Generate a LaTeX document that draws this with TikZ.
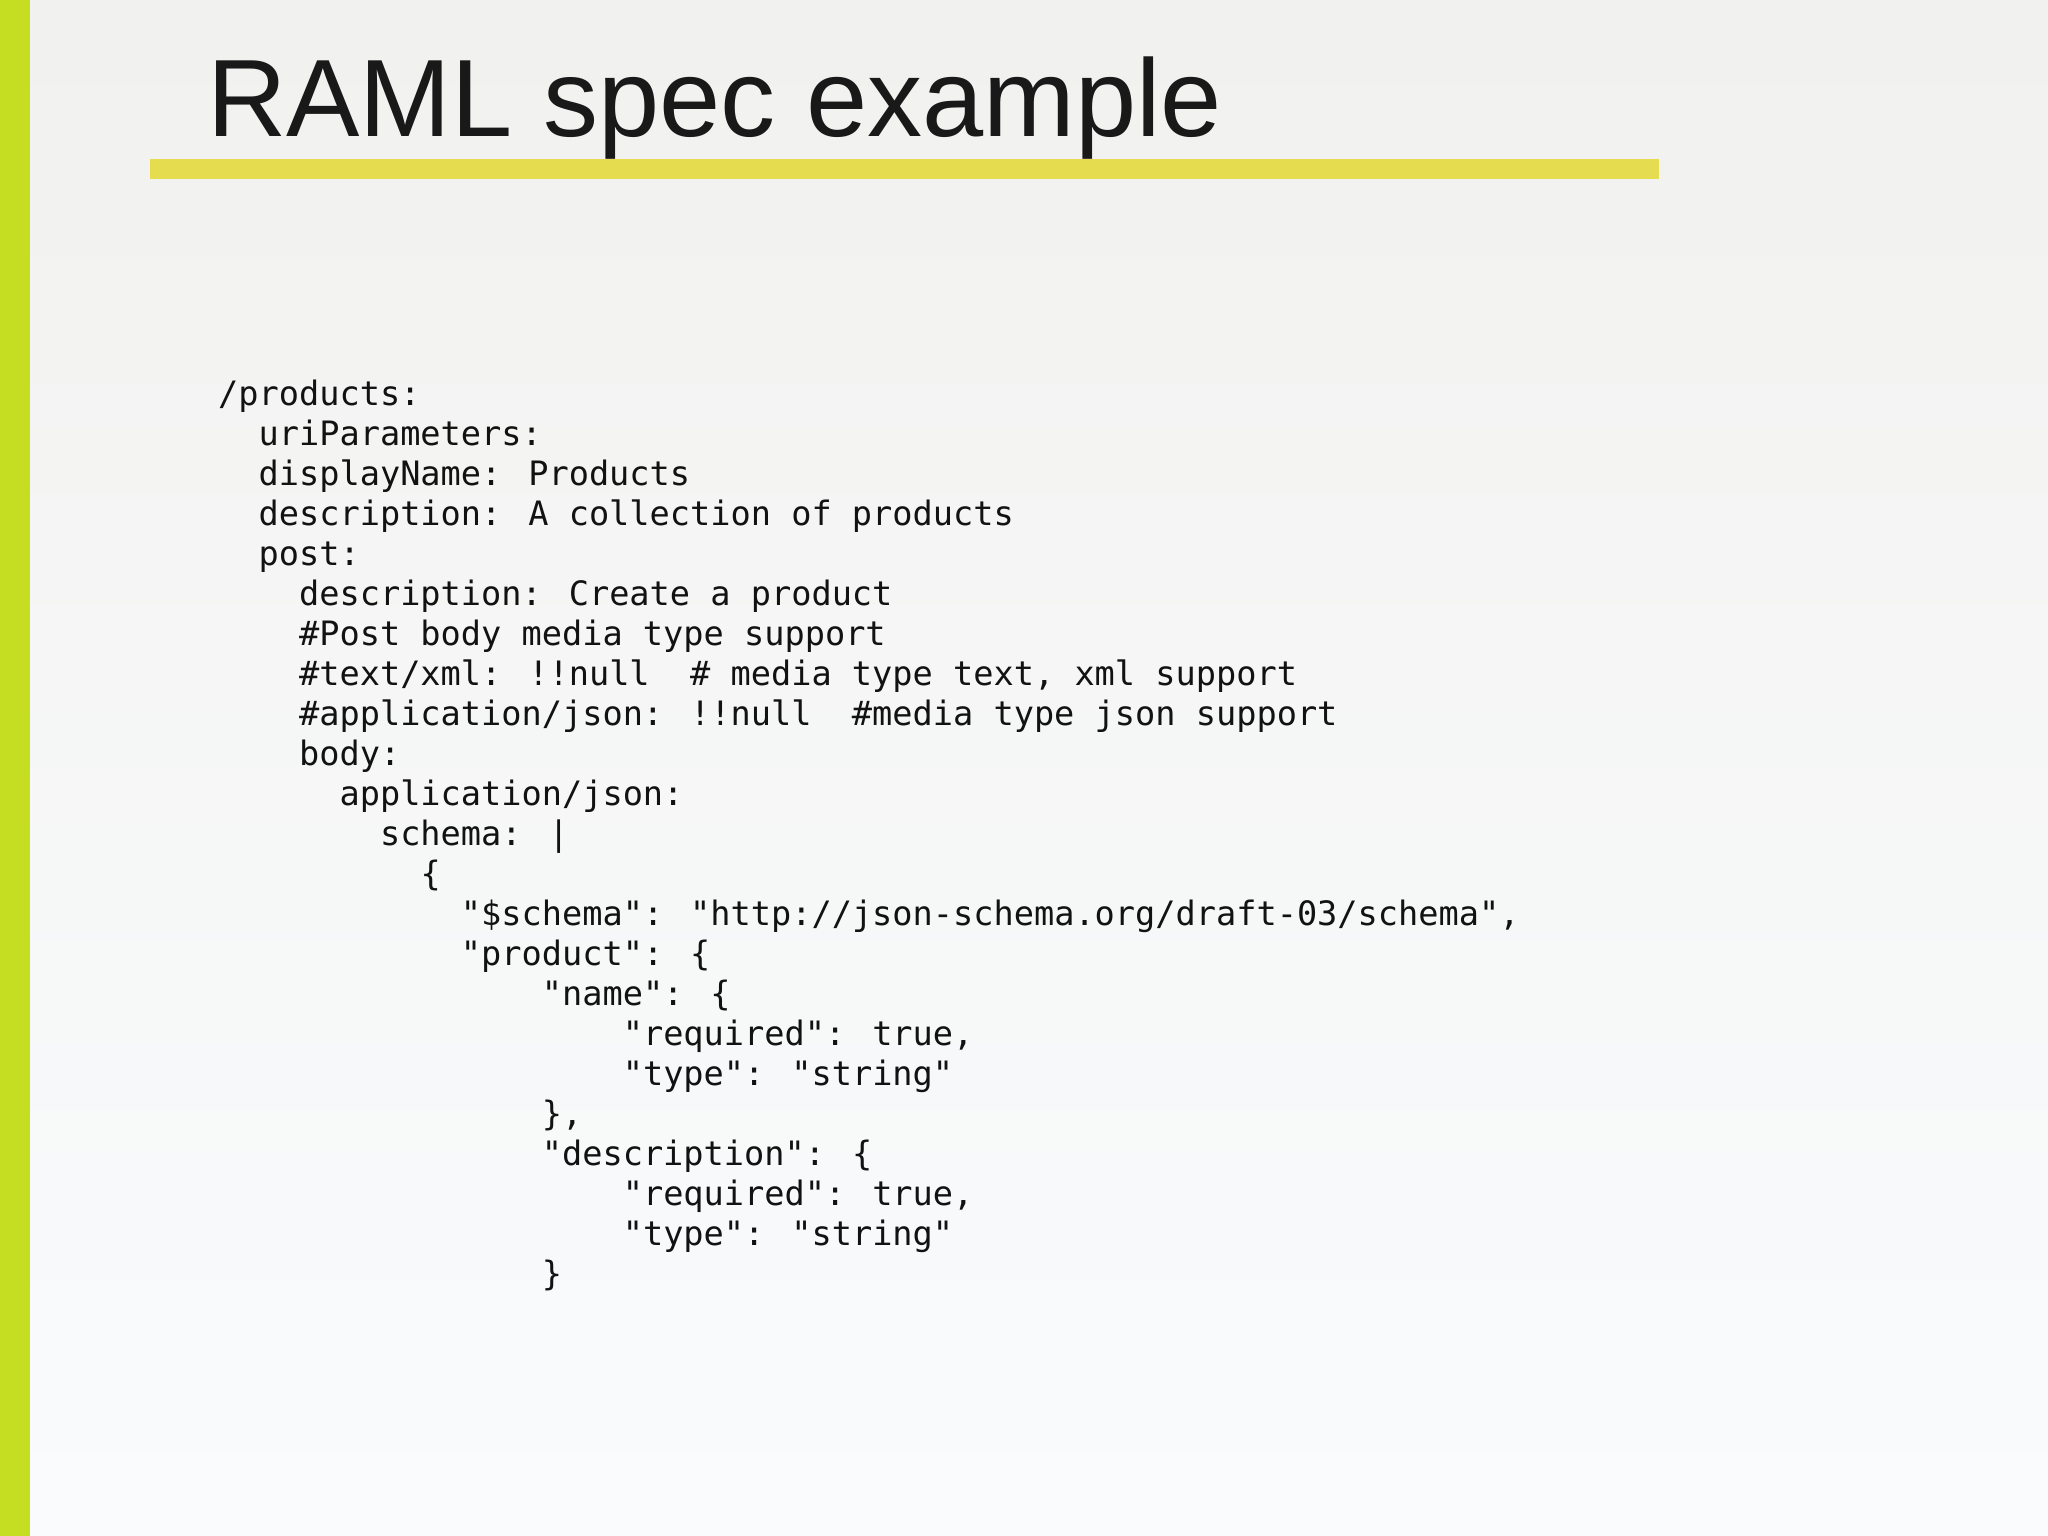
\documentclass[tikz,border=0pt]{standalone}
\usepackage{fontspec}
\setmainfont{Liberation Sans}
\newfontfamily\codefont{DejaVu Sans Mono}
\definecolor{barg}{HTML}{C5DE22}
\definecolor{undl}{HTML}{E5DC50}
\definecolor{bgtop}{HTML}{F1F2EF}
\definecolor{bgbot}{HTML}{FAFBFD}
\begin{document}
\begin{tikzpicture}[x=1pt,y=1pt,
  code/.style={anchor=base west,inner sep=0pt,font=\codefont\fontsize{33.6}{40}\selectfont,text=black!93}]
\useasboundingbox (0,0) rectangle (2048,-1536);
\shade[top color=bgtop,bottom color=bgbot] (0,0) rectangle (2048,-1536);
\fill[barg] (0,0) rectangle (30,-1536);
\fill[undl] (150,-159) rectangle (1659,-179);
\node[anchor=base west,inner sep=0pt,font=\fontsize{110}{120}\selectfont,text=black!90] (title) at (207,-136) {RAML spec example};
\def\cw{20.23}
\foreach \n/\ind/\t [count=\i from 0] in {
 l0/0/{/products:},
 l1/2/{uriParameters:},
 l2/2/{displayName: Products},
 l3/2/{description: A collection of products},
 l4/2/{post:},
 l5/4/{description: Create a product},
 l6/4/{\#Post body media type support},
 l7/4/{\#text/xml: !!null~ \# media type text, xml support},
 l8/4/{\#application/json: !!null~ \#media type json support},
 l9/4/{body:},
 l10/6/{application/json:},
 l11/8/{schema: |},
 l12/10/{\{},
 l13/12/{"\$schema": "http://json-schema.org/draft-03/schema",},
 l14/12/{"product": \{},
 l15/16/{"name": \{},
 l16/20/{"required": true,},
 l17/20/{"type": "string"},
 l18/16/{\},},
 l19/16/{"description": \{},
 l20/20/{"required": true,},
 l21/20/{"type": "string"},
 l22/16/{\}}}
 \node[code] (\n) at ({218+\ind*\cw},{-405-\i*40}) {\t};
\end{tikzpicture}
\end{document}
